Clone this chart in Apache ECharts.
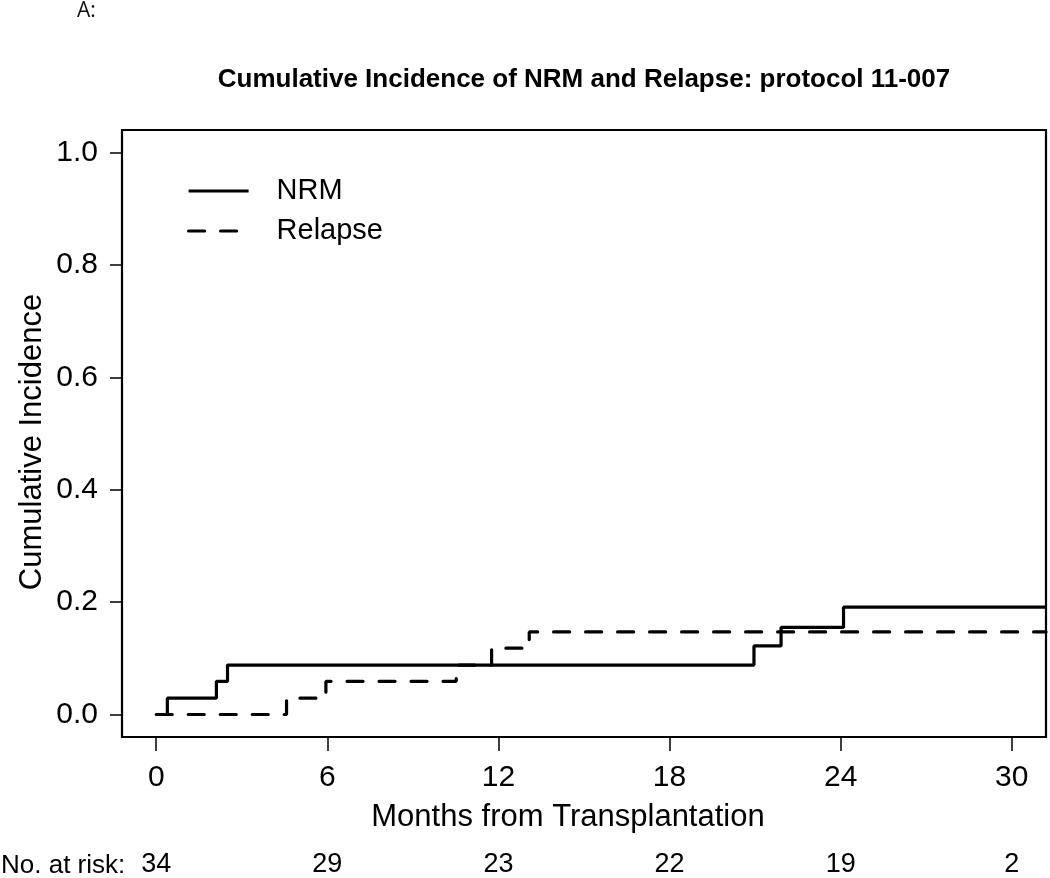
<!DOCTYPE html>
<html>
<head>
<meta charset="utf-8">
<script src="https://cdn.jsdelivr.net/npm/echarts@6/dist/echarts.min.js"></script>
<style>
html,body{margin:0;padding:0;background:#fff;}
#c{width:1050px;height:878px;}
</style>
</head>
<body>
<div id="c"></div>
<script>
// ---- data ----
const xTicks = [0, 6, 12, 18, 24, 30];
const yTicks = [0, 0.2, 0.4, 0.6, 0.8, 1.0];
const atRisk = [34, 29, 23, 22, 19, 2];
const nrmTimes = [0, 0.39, 2.11, 2.5, 20.96, 21.91, 24.1, 31.2];
const nrmCI    = [0, 0.029, 0.059, 0.088, 0.122, 0.155, 0.191, 0.191];
const relTimes = [0, 4.57, 5.95, 10.52, 11.76, 13.08, 31.2];
const relCI    = [0, 0.029, 0.059, 0.088, 0.118, 0.147, 0.147];

const FONT = 'Liberation Sans, Arial, sans-serif';
const chart = echarts.init(document.getElementById('c'), null, {renderer: 'canvas'});

const pairs = (xs, ys) => xs.map((x, i) => [x, ys[i]]);

chart.setOption({
  animation: false,
  backgroundColor: '#fff',
  grid: {
    left: 122, right: 4, top: 130, bottom: 136,
    show: true, borderColor: '#000', borderWidth: 2.2, backgroundColor: 'transparent'
  },
  legend: {
    orient: 'vertical',
    left: 187, top: 176, padding: 0,
    itemWidth: 60, itemHeight: 14, itemGap: 10,
    itemStyle: {opacity: 0},
    lineStyle: {width: 3.2, color: '#000'},
    textStyle: {fontFamily: FONT, fontSize: 29, color: '#000', lineHeight: 30, padding: [0, 0, 0, 23]},
    data: [
      {name: 'NRM', lineStyle: {width: 3.2, type: 'solid', cap: 'butt'}},
      {name: 'Relapse', lineStyle: {width: 3.2, type: [16, 16], cap: 'round'}}
    ]
  },
  xAxis: [{
    type: 'value', min: -1.2, max: 31.2, position: 'bottom',
    axisLine: {show: false, onZero: false},
    splitLine: {show: false},
    axisTick: {show: true, inside: false, customValues: xTicks, length: 14, lineStyle: {color: '#000', width: 1.5}},
    axisLabel: {customValues: xTicks, margin: 26, fontFamily: FONT, fontSize: 30, color: '#000'}
  }, {
    type: 'value', min: -1.2, max: 31.2, position: 'bottom', offset: 94,
    axisLine: {show: false, onZero: false}, splitLine: {show: false}, axisTick: {show: false},
    axisLabel: {
      customValues: xTicks, margin: 20, fontFamily: FONT, fontSize: 27, color: '#000',
      formatter: v => String(atRisk[xTicks.indexOf(v)])
    }
  }],
  yAxis: {
    type: 'value', min: -0.04, max: 1.04, position: 'left',
    axisLine: {show: false, onZero: false},
    splitLine: {show: false},
    axisTick: {show: true, inside: false, customValues: yTicks, length: 12, lineStyle: {color: '#000', width: 1.5}},
    axisLabel: {customValues: yTicks, margin: 24, fontFamily: FONT, fontSize: 30, color: '#000',
      formatter: v => v.toFixed(1)}
  },
  series: [{
    name: 'NRM', type: 'line', step: 'end', showSymbol: false, symbol: 'none',
    lineStyle: {color: '#000', width: 3.2, cap: 'butt'},
    itemStyle: {color: '#000'},
    data: pairs(nrmTimes, nrmCI)
  }, {
    name: 'Relapse', type: 'line', step: 'end', showSymbol: false, symbol: 'none',
    lineStyle: {color: '#000', width: 3.2, type: [16, 16], cap: 'round'},
    itemStyle: {color: '#000'},
    data: pairs(relTimes, relCI)
  }],
  graphic: [
    {type: 'text', left: 77, top: 1, style: {text: 'A:', font: '21px "Open Sans", sans-serif', fill: '#111'}},
    {type: 'text', x: 584, y: 80, style: {text: 'Cumulative Incidence of NRM and Relapse: protocol 11-007',
      font: 'bold 26px ' + FONT, fill: '#000', align: 'center', verticalAlign: 'middle'}},
    {type: 'text', x: 568, y: 817, style: {text: 'Months from Transplantation',
      font: '31px ' + FONT, fill: '#000', align: 'center', verticalAlign: 'middle'}},
    {type: 'text', x: 32, y: 442, rotation: Math.PI / 2, style: {text: 'Cumulative Incidence',
      font: '31px ' + FONT, fill: '#000', align: 'center', verticalAlign: 'middle'}},
    {type: 'text', x: 1, y: 866, style: {text: 'No. at risk:',
      font: '26px ' + FONT, fill: '#000', align: 'left', verticalAlign: 'middle'}}
  ]
});
</script>
</body>
</html>
